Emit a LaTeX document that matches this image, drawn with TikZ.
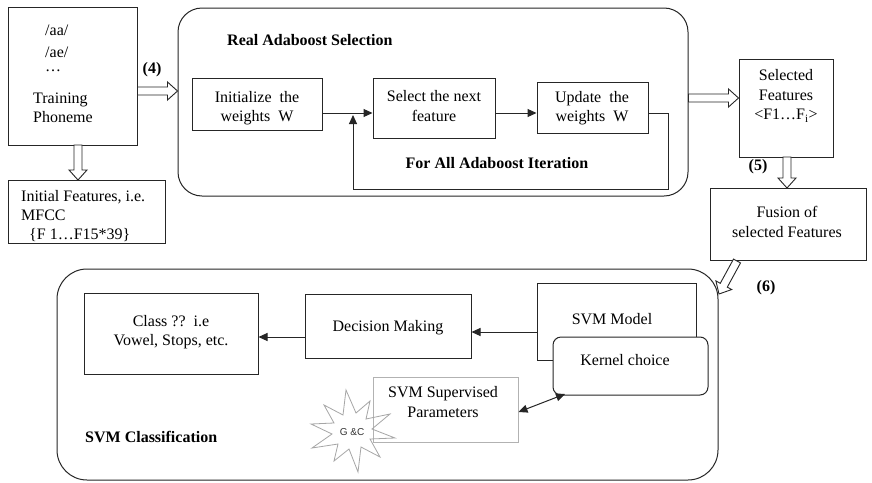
\documentclass[tikz,border=0pt]{standalone}
\usepackage{fontspec}
\setmainfont{Liberation Serif}
\newfontfamily\gcfont{Liberation Sans}
\usetikzlibrary{arrows.meta,calc,fit}
\tikzset{
  box/.style={draw=black!85, line width=1pt, inner sep=0pt},
  rbox/.style={box, rounded corners=#1},
  txt/.style={inner sep=0pt, align=center, font=\fontsize{16}{19.5}\selectfont},
  ltxt/.style={inner sep=0pt, align=left, anchor=west, font=\fontsize{16}{19}\selectfont},
  btxt/.style={inner sep=0pt, font=\fontsize{16}{19}\selectfont\bfseries},
  conn/.style={draw=black!85, line width=1pt, -{Triangle[length=9pt,width=8pt]}},
  dconn/.style={draw=black!85, line width=1pt, {Triangle[length=9pt,width=8pt]}-{Triangle[length=9pt,width=8pt]}},
  harr/.style={draw=black!85, line width=0.9pt, fill=white, line join=miter},
  starline/.style={draw=black!35, line width=0.8pt},
}
\newcommand{\hollowarr}[2]{%
  \coordinate (hA) at (#1);
  \coordinate (hB) at (#2);
  \coordinate (hH) at ($(hB)!10pt!(hA)$);
  \draw[harr] ($(hA)!4pt!90:(hB)$) -- ($(hH)!4pt!-90:(hA)$) -- ($(hH)!9pt!-90:(hA)$)
     -- (hB) -- ($(hH)!9pt!90:(hA)$) -- ($(hH)!4pt!90:(hA)$) -- ($(hA)!4pt!-90:(hB)$) -- cycle;
}
\begin{document}
\begin{tikzpicture}[x=1pt,y=-1pt]
\useasboundingbox (0,0) rectangle (872,482);
\fill[white] (0,0) rectangle (872,482);

% ---- Training phoneme
\node[box, fit={(8,7) (137,145)}] (train) {};
\node[ltxt] (aa) at (45,30) {/aa/};
\node[ltxt] (ae) at (45,52) {/ae/};
\node[ltxt] (dots) at (45,71) {\dots};
\node[ltxt] (tp) at (33,108) {Training\\Phoneme};

% ---- Initial features
\node[box, fit={(8,180) (165,243)}] (initf) {};
\node[ltxt] (initt) at (21,216) {Initial Features, i.e.\\MFCC\\\hspace*{8pt}\{F 1\dots F15*39\}};
\coordinate (tdS) at (78,145);
\coordinate (tdE) at (78,180);
\hollowarr{tdS}{tdE}

% ---- (4)
\node[btxt] (l4) at (152,70) {(4)};

% ---- Adaboost
\node[rbox=24pt, fit={(178,8) (688,196)}] (ada) {};
\node[btxt, anchor=west] (adat) at (227,40) {Real Adaboost Selection};
\coordinate (a4s) at (train.east |- 0,91);
\coordinate (a4e) at (ada.west |- 0,91);
\hollowarr{a4s}{a4e}

\node[box, fit={(192,78) (322,130)}] (iw) {};
\node[txt] (iwt) at (257,108) {Initialize\ \ the\\weights\ \ W};
\node[box, fit={(373,78) (495,138)}] (sel) {};
\node[txt] (selt2) at (434,106) {Select the next\\feature};
\node[box, fit={(537,82) (648,133)}] (upd) {};
\node[txt] (updt) at (592,108) {Update\ \ the\\weights\ \ W};
\draw[conn] (iw.east |- 0,113) -- (sel.west |- 0,113);
\draw[conn] (sel.east |- 0,113) -- (upd.west |- 0,113);
\coordinate (loopA) at (668,113);
\coordinate (loopB) at (668,189);
\coordinate (loopC) at (353,189);
\coordinate (loopD) at (353,115);
\draw[conn] (upd.east |- loopA) -- (loopA) -- (loopB) -- (loopC) -- (loopD);
\node[btxt] (fort) at (497,163) {For All Adaboost Iteration};

% ---- Selected features
\node[box, fit={(739,59) (833,157)}] (self) {};
\node[txt] (selt) at (786,96) {Selected\\Features\\<F1\dots F\textsubscript{i}>};
\coordinate (a5s) at (ada.east |- 0,98);
\coordinate (a5e) at (self.west |- 0,98);
\hollowarr{a5s}{a5e}
\node[btxt] (l5) at (758,167) {(5)};

% ---- Fusion
\node[box, fit={(710,188) (866,260)}] (fus) {};
\node[txt] (fust) at (787,222) {Fusion of\\selected Features};
\coordinate (fdS) at (787,157);
\coordinate (fdE) at (787,188);
\hollowarr{fdS}{fdE}

% ---- SVM classification
\node[rbox=30pt, fit={(57,269) (718,480)}] (svm) {};
\coordinate (a6s) at (737,261);
\coordinate (a6e) at (719,294);
\hollowarr{a6s}{a6e}
\node[btxt] (l6) at (766,288) {(6)};

\node[box, fit={(84,293) (258,374)}] (cls) {};
\node[txt] (clst) at (171,332) {Class ??\ \ i.e\\Vowel, Stops, etc.};
\node[box, fit={(305,294) (471,358)}] (dec) {};
\node[txt] (dect) at (388,328) {Decision Making};
\node[box, fit={(537,283) (696,360)}] (svmm) {};
\node[txt] (svmt) at (612,319) {SVM Model};
\node[rbox=8pt, fill=white, fit={(553,337) (708,395)}] (kern) {};
\node[txt] (kernt) at (625,360) {Kernel choice};

\draw[conn] (svmm.west |- 0,332) -- (dec.east |- 0,332);
\draw[conn] (dec.west |- 0,337) -- (cls.east |- 0,337);

\node[box, draw=black!30, fit={(373,377) (518,442)}] (par) {};
\node[txt] (part) at (443,402) {SVM Supervised\\Parameters};
\coordinate (dA) at (par.east |- 0,412);
\coordinate (dB) at (565,394);
\draw[dconn] (dA) -- (dB);

% starburst G & C
\draw[starline] (395,438) -- (370,439) -- (380,457) -- (361,447) -- (358,472) -- (349,449)
  -- (334,461) -- (338,444) -- (312,448) -- (332,434) -- (311,424) -- (334,423)
  -- (324,405) -- (343,415) -- (346,390) -- (356,413) -- (370,401) -- (366,419)
  -- (390,414) -- (372,429) -- cycle;
\node[inner sep=0pt, font=\gcfont\fontsize{10}{12}\selectfont, text=black!80] (gc) at (352,432) {G \&C};

\node[btxt, anchor=west] (svmc) at (85,437) {SVM Classification};
\end{tikzpicture}
\end{document}
